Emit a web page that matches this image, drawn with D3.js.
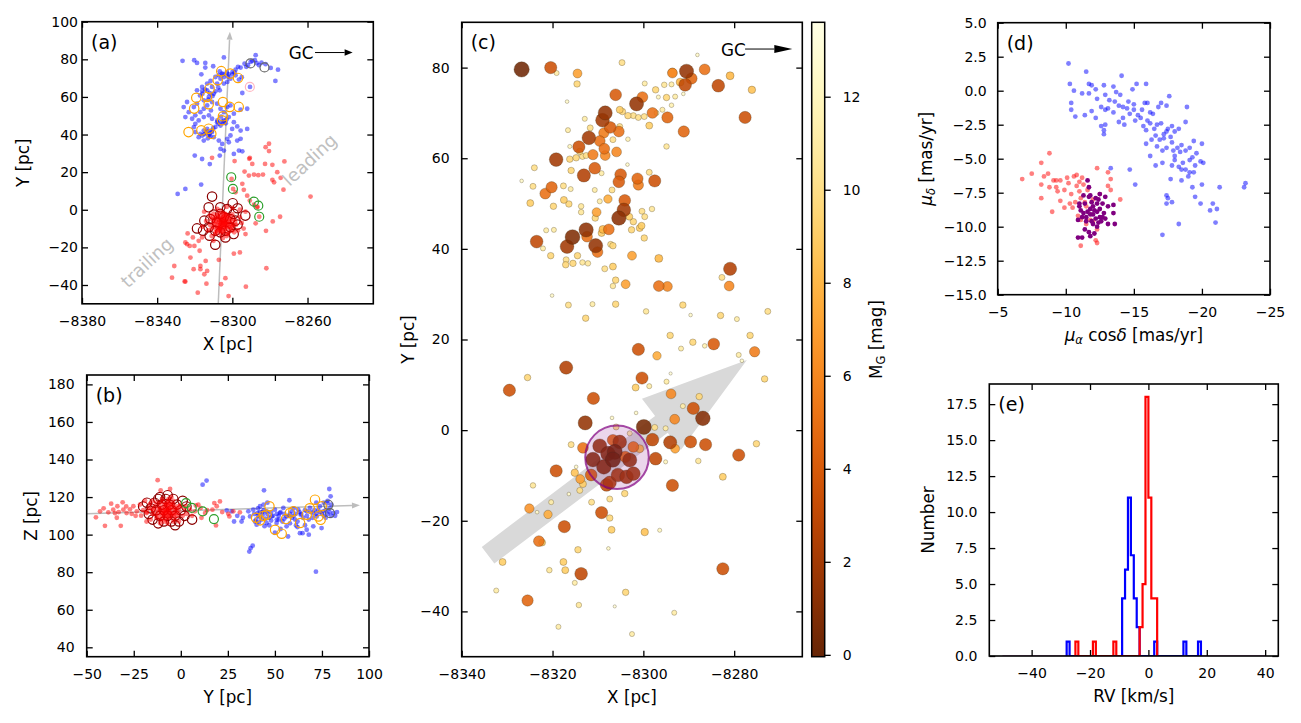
<!DOCTYPE html>
<html>
<head>
<meta charset="utf-8">
<script src="https://cdn.jsdelivr.net/npm/d3@7"></script>
<style>
  body { margin: 0; background: #fff; }
  svg { display: block; }
</style>
</head>
<body>
<svg id="fig" width="1301" height="723"></svg>
<script>
const FONT = "'DejaVu Sans', sans-serif";

// ---------- panel (a): X-Y positions ----------
const aBlue = [
  [-8326.5,79.2],[-8320.3,79.5],[-8318.8,78.1],[-8314.4,78.1],[-8314.4,75.6],[-8316.5,72.0],[-8310.2,76.3],[-8304.5,81.0],
  [-8306.7,73.6],[-8305.4,72.4],[-8309.0,70.6],[-8311.6,68.5],[-8313.4,67.1],[-8316.1,65.3],[-8318.8,63.5],[-8315.9,61.7],
  [-8313.4,63.5],[-8310.8,65.3],[-8308.1,67.1],[-8306.3,69.7],[-8304.5,70.6],[-8301.9,72.0],[-8299.9,73.3],[-8298.3,74.5],
  [-8295.6,75.6],[-8293.5,77.7],[-8291.7,76.9],[-8290.3,78.6],[-8287.6,82.2],[-8289.4,79.2],[-8285.8,76.9],[-8282.3,77.4],
  [-8279.6,75.4],[-8275.7,74.5],[-8277.1,68.5],[-8290.6,65.3],[-8294.7,62.1],[-8296.5,69.2],[-8298.3,71.5],[-8301.0,69.7],
  [-8302.7,68.0],[-8304.5,67.1],[-8306.7,63.5],[-8309.9,61.7],[-8312.5,60.0],[-8315.2,58.2],[-8318.8,56.4],[-8320.5,54.6],
  [-8324.1,57.3],[-8325.9,54.6],[-8325.0,49.3],[-8323.2,51.9],[-8321.4,48.4],[-8319.7,50.2],[-8317.0,51.9],[-8315.2,53.7],
  [-8313.4,55.5],[-8310.8,57.3],[-8308.1,56.4],[-8306.3,53.7],[-8304.5,51.9],[-8302.7,54.6],[-8301.0,55.5],[-8299.2,51.1],
  [-8301.9,49.3],[-8304.5,47.5],[-8306.3,44.8],[-8308.1,46.6],[-8310.8,48.4],[-8312.5,50.2],[-8315.2,49.3],[-8317.9,47.5],
  [-8319.7,45.7],[-8320.5,43.9],[-8319.7,41.3],[-8317.9,38.6],[-8315.2,36.8],[-8312.5,39.5],[-8310.8,41.3],[-8313.4,43.0],
  [-8315.2,42.1],[-8317.0,40.4],[-8309.9,38.6],[-8307.2,36.8],[-8305.4,35.0],[-8302.7,37.7],[-8301.0,39.5],[-8300.1,43.0],
  [-8299.2,46.6],[-8297.4,44.3],[-8295.6,42.1],[-8297.4,36.8],[-8301.9,35.9],[-8304.5,31.5],[-8306.3,32.4],[-8296.5,31.5],
  [-8294.7,31.1],[-8295.6,37.7],[-8295.6,53.2],[-8292.1,53.7],[-8292.1,43.0],[-8320.0,28.8],[-8316.1,27.0],[-8312.0,24.3],
  [-8306.7,28.8],[-8299.2,29.7],[-8314,41],[-8312,40.5],[-8311,42],[-8313,38],[-8316,39.5],[-8309,44],[-8308,47.5],
  [-8305.5,47],[-8306,49.5],[-8303.5,46],[-8310.5,60.5],[-8312,62],[-8314.5,64],[-8309,63],[-8307.5,65],[-8305,72],
  [-8303,73],[-8300,72],[-8297,76],[-8288,79.5],[-8287,78],[-8295,70.5],[-8316.6,13.4],[-8325.0,11.1],[-8329.1,8.4],
  [-8314.8,40.2],[-8313.2,41.6],[-8311.8,39.0],[-8310.2,43.4],[-8307.4,45.8],[-8304.8,46.2],[-8303.1,48.0],[-8317.2,60.8],
  [-8316.0,63.2],[-8312.8,58.6],[-8307.2,71.6],[-8302.4,70.8],[-8298.8,73.0],[-8292.6,76.0],[-8284.5,78.2],[-8311.4,52.8]
];
const aRed = [
  [-8282.3,33.3],[-8280.5,35.1],[-8280.5,31.2],[-8298.8,25.9],[-8289.4,24.4],[-8291.0,27.1],[-8282.6,24.4],[-8278.7,23.9],
  [-8272.3,25.7],[-8293.5,20.3],[-8291.2,18.2],[-8288.5,18.7],[-8286.2,18.4],[-8283.7,18.7],[-8276.1,20.0],[-8278.7,15.9],
  [-8277.8,14.6],[-8274.3,17.0],[-8272.8,10.7],[-8258.4,7.0],[-8294.7,13.8],[-8293.9,10.6],[-8298.3,9.3],[-8300.4,16.4],
  [-8299.6,11.1],[-8292.1,7.5],[-8290.7,4.9],[-8288.5,2.7],[-8286.7,1.7],[-8285.7,-3.7],[-8287.6,-7.2],[-8278.5,-6.2],
  [-8274.6,-3.7],[-8282.1,-11.2],[-8293.0,-12.9],[-8281.9,-31.1],[-8292.8,-40.9],[-8302.0,-45.9],[-8306.0,-39.6],
  [-8303.7,-36.4],[-8299.2,-23.3],[-8296.0,-22.7],[-8307.2,-26.6],[-8313.8,-39.3],[-8318.4,-44.1],[-8325.0,-38.2],
  [-8332.1,-36.1],[-8330.9,-29.9],[-8322.3,-25.4],[-8317.4,-21.8],[-8314.2,-27.2],[-8317.0,-29.9],[-8317.0,-31.6],
  [-8320.6,-31.6],[-8313.4,-32.5],[-8314.9,-34.3],[-8320.2,-19.2],[-8324.1,-18.3],[-8322.7,-19.2],[-8325.0,-17.4],
  [-8317.9,-16.5],[-8316.1,-14.7],[-8323.8,-12.6],[-8321.0,-14.7],[-8325.4,-38.1],[-8310.8,27.6],[-8290.7,27.6],
  [-8286.8,1.3],
  [-8306,-7],[-8304,-6],[-8305,-8],[-8303,-8.5],[-8307,-5.5],[-8308,-8],[-8302,-5],[-8306,-10],[-8304,-10.5],[-8309,-6],
  [-8301,-7.5],[-8305,-4],[-8307,-11],[-8303,-3.5],[-8310,-9],[-8300,-9],[-8308,-3],[-8302,-12],[-8306,-13],[-8311,-5],
  [-8299,-5],[-8304,-2],[-8309,-12],[-8301,-10],[-8312,-8],[-8298,-8],[-8306,-1],[-8310,-2],[-8300,-2.5],[-8313,-11],
  [-8297,-11],[-8305,-15],[-8303,-14],[-8311,-14],[-8296,-4],[-8314,-6],[-8307,-6.5],[-8304,-7.5],[-8305,-9.5],[-8306,-5],
  [-8303,-6.5],[-8308,-9.5],[-8302,-9],[-8304,-4.5],[-8306,-8.5],[-8305,-6],[-8309,-4],[-8301,-4],[-8299,-12],[-8312,-3],
  [-8295,-7],[-8296,0],[-8300,1],[-8315,-1],[-8293,-1],[-8316,-9],[-8294,-10],[-8303,1.5],[-8308,0.5],[-8310,-16.5],
  [-8305.5,-7.5],[-8304.5,-6.5],[-8306.5,-8],[-8303.5,-7],[-8305,-5.5],[-8307.5,-7],[-8302.5,-7.5],[-8304,-9],[-8306,-3.5],
  [-8308.5,-5],[-8301.5,-6],[-8303,-10],[-8307,-9.5],[-8309.5,-7.5],[-8300.5,-6],[-8305.5,-11.5],[-8302,-3],[-8308.5,-10.5],
  [-8304.5,-12],[-8310.5,-4],[-8299.5,-8],[-8306.5,-11],[-8303.5,-2.5],[-8311,-10],[-8300,-11],[-8307.5,-2],[-8309,-13],
  [-8302.5,-13],[-8305,-2],[-8310,-6.5],[-8298.5,-6.5],[-8304,-8],[-8306,-6],[-8305,-7],[-8303.5,-5],[-8307,-4],
  [-8301,-9],[-8308,-11.5],[-8304.5,-3.5],[-8306.5,-9.5]
];
const aOrangeRings = [
  [-8305.9,73.7],[-8301.1,72.4],[-8297.0,70.1],[-8307.8,68.9],[-8312.1,64.4],[-8313.5,60.0],[-8319.2,59.5],[-8312.6,56.1],
  [-8320.3,53.8],[-8305.0,57.3],[-8301.4,54.7],[-8296.6,54.7],[-8305.0,49.7],[-8305.5,47.6],[-8323.3,41.3],[-8316.5,42.2],
  [-8312.6,43.1],[-8311.2,40.4]
];
const aDarkRedRings = [
  [-8310.8,7.0],[-8312.6,1.3],[-8318.8,-9.9],[-8309.1,-18.6],[-8303.7,-14.7],[-8293.1,-3.1],[-8297.2,0.8],[-8299.8,3.5],
  [-8306.4,1.3],[-8309.9,-2.6],[-8314.9,-5.8],[-8315.6,-11.1],[-8312.1,-13.8],[-8306.4,-12.0],[-8301.1,-9.3],[-8298.4,-5.8],
  [-8299.3,-2.2],[-8302.8,0.4],[-8312.6,-9.3],[-8308.2,-6.7],[-8304.6,-4.0],[-8301.1,-4.9],[-8309.1,-11.1],[-8303.7,-11.1],
  [-8306.4,-2.2],[-8311.7,-4.9],[-8299.3,-12.9],[-8297.2,-7.9]
];
const aGreenRings = [[-8300.6,17.3],[-8299.7,11.1],[-8288.5,4.3],[-8286.2,2.2],[-8285.7,-3.7]];
const aGrayRings = [[-8290.4,77.8],[-8282.9,75.7]];
const aPinkRings = [[-8290.7,65.3]];

// ---------- panel (b): Y-Z positions ----------
const bBlue = [
  [13.7,128.8],[11.6,126.6],[24.4,112.9],[27,112.4],[28.3,107],[32.3,107],[35.9,112.4],[36.8,109.7],[38.5,113.3],[39.4,107],
  [40.3,105.3],[40.8,111.5],[42.1,115.1],[43.5,110.6],[44.2,123.6],[45.6,112.4],[45.6,106.2],[48.3,109.7],[50,113.3],
  [50.9,106.2],[52.7,111.5],[54.5,114.2],[56.2,109.7],[56.2,104.4],[57.7,118.3],[58.9,112.4],[60.7,108],[61.2,104.9],
  [62.4,113.3],[63.7,110.6],[64.7,100.8],[63.3,100.8],[66.9,112.4],[66.9,102.6],[68.6,114.2],[70.4,111.5],[70.4,104.4],
  [72.2,109.7],[73.9,115.1],[74.8,103.5],[75.7,112.4],[77.9,116.8],[78.9,124.3],[79.6,120.4],[81,111.5],[71.8,80.3],
  [36.4,91],[37.1,92.8],[38.2,94.1],[41,110],[42,112],[43,108],[44,113],[46,111],[47,109],[48,112],[49,110],[51,108],
  [52,110],[53,112],[55,111],[57,110],[59,109],[61,111],[63,112],[65,109],[67,110],[69,112],[71,113],[72,111],[74,112],
  [76,110],[77,113],[78,111],[79,114],[80,116],[82,110],[83,112],[58,106],[62,107],[66,105],[54,107],[47,105],[39,111],
  [41,114],[44,116],[60,114],[53,103],[57,99],[68,100],[50,101],[30,110],[33,109],[76,117],[78,118],[72,117],[62,104],
  [46,117],[52,108],[40,108],[42,109.5],[43.5,112],[45,108.5],[48,107.5],[51,111],[55,108.5],[58,111],[64,111],[66,113],
  [68,108],[70,109],[73,113],[75,111],[77,109],[79,112],[80,110],[41.5,106.5],[44.5,104.5],[60,110]
];
const bRed = [
  [-45.1,109.2],[-42.9,112.4],[-38.5,111.9],[-40.3,104.7],[-35.9,113.3],[-35.0,111.5],[-30.9,117.2],[-30.5,113.3],
  [-31.9,104.7],[-33.7,115.1],[-28.8,111.5],[-26.1,111.1],[-25.2,115.1],[-23.4,112.4],[-21.7,116.0],[-21.1,110.1],
  [-18.2,111.5],[-18.2,107.0],[-15.5,113.6],[-16.4,116.3],[-12.3,129.0],[-10.7,123.6],[-5.7,124.3],[3.1,115.1],[4.9,113.3],
  [7.5,112.4],[9.3,116.0],[10.5,114.2],[12.9,111.5],[16.8,113.3],[17.8,116.8],[19.1,115.1],[20.8,117.7],[18.7,104.9],
  [25.2,111.1],[25.8,109.7],[27.9,112.4],[31.4,111.9],[-37,116.5],[-34,109],[-27,113.5],[-24,110],[-20,113],[-19,118],
  [-33,112],[6,110],[11,109],[14,113],[22,112],[8,115.5],[-41,114],[-29,115],
  [-8,113],[-6,112],[-10,114],[-4,111],[-7,115],[-9,110],[-5,116],[-12,112],[-3,114],[-8,108],[-11,117],[-2,110],
  [-6,109],[-13,109],[-1,113],[-14,115],[-7,118],[-9,107],[-4,107],[0,116],[-15,111],[-10,119],[-5,120],[-16,108],
  [1,110],[-8,111.5],[-6,114],[-9,112.5],[-7,110.5],[-5,113],[-11,113.5],[-3,112],[-12,110],[-2,115],[-10,108.5],
  [-6,117],[-8,116],[-4,118],[-13,117],[2,114],[-17,114],[3,111],[-11,106],[-7,106],[-1,107],[-15,118],[-18,112],
  [-7.5,112.5],[-6.5,113.5],[-8.5,114],[-5.5,111.5],[-9.5,111.5],[-4.5,114.5],[-10.5,112],[-7,109],[-3.5,110.5],
  [-11.5,115],[-6,115.5],[-8,110],[-9,115.5],[-5,109.5],[-12.5,113.5],[-2.5,113],[-7,113.5],[-8.5,112],[-6,111],
  [-10,110.5],[-4,116],[-13.5,111],[-1.5,111.5],[-9.5,117.5],[-6.5,119],[-3,108.5],[-11,108],[-14.5,113],[-0.5,115],
  [-7.5,116.5]
];
const bOrangeRings = [
  [47.1,115.1],[42.1,107.6],[44,110],[50.1,102.6],[53.6,100.5],[55.9,108.3],[58,111.5],[63.4,106.2],[66.9,110.6],
  [71.3,118.6],[73.1,109.7],[74.3,107.9],[74.9,115.1],[59.8,112.4],[45.6,110.6],[68.5,114],[40,109]
];
const bDarkRedRings = [
  [-20,115],[-17,111],[-15,108],[-14,117],[-13,113],[-12,119],[-11,110],[-10,116],[-9,107],[-9,113],[-8,119],[-7,110],
  [-6,116],[-5,107],[-5,113],[-4,119],[-3,110],[-2,116],[-1,107],[0,113],[1,118],[2,110],[-16,114],[-7,121],[-3,105],
  [-12,106],[-18,117],[3,115],[-11,120],[6,108]
];
const bGreenRings = [[2.8,116.8],[5.8,114.2],[11.6,112.4],[17.6,108.3]];
const bGrayRings = [[78.4,115.9],[79.3,111.5]];

// ---------- panel (c): X, Y, M_G ----------
const cStars = [
  [-8326.8,79.6,0.3],[-8320.4,80.0,3.5],[-8314.5,78.7,7],[-8314.6,76.4,9.5],[-8304.7,81.1,10],[-8288.1,82.8,12.5],
  [-8293.6,78.9,7],[-8290.5,79.2,1.5],[-8290.8,76.2,3],[-8289.4,77.6,4.5],[-8286.5,79.6,5],[-8283.5,76.0,3],
  [-8280.9,78.2,8],[-8276.1,75.1,8.5],[-8277.6,69.0,3.5],[-8291.1,65.9,4.5],[-8301.5,72.0,1.5],[-8300.2,73.5,5],
  [-8298.0,70.0,5],[-8294.7,69.0,4.5],[-8306.1,74.0,4],[-8308.4,70.0,1.5],[-8309.0,68.4,2],[-8307.3,66.8,4],
  [-8312.0,64.5,2],[-8314.2,62.5,3.5],[-8308.7,65.6,5.5],[-8309.6,63.8,5],[-8305.4,65.9,5],[-8308.6,62.1,5],
  [-8308.4,60.6,6],[-8305.9,61.4,6],[-8319.2,59.7,2],[-8311.1,60.8,5.5],[-8310.7,57.8,4],[-8313.1,56.2,2.5],
  [-8305.0,56.4,4],[-8305.4,54.8,4],[-8301.3,55.5,4.5],[-8301.1,54.1,5.5],[-8297.5,55.0,3.5],[-8320.2,53.6,4.5],
  [-8321.6,52.2,5],[-8304.1,50.7,4],[-8307.8,51.0,7.5],[-8304.3,48.6,2],[-8305.4,46.8,1.2],[-8307.6,44.3,5],
  [-8310.3,48.1,7],[-8315.6,42.6,0.8],[-8312.6,44.2,1.3],[-8316.8,40.5,2],[-8310.5,40.7,1.5],[-8310.1,39.3,5],
  [-8323.5,41.6,3],[-8302.5,38.5,7],[-8296.6,37.9,8],[-8280.9,35.6,2.5],[-8281.1,31.8,6],[-8296.6,31.8,5],
  [-8294.7,31.7,6],[-8303.9,32.2,7],[-8312.4,42.7,5],
  [-8324.0,57.9,10],[-8326.8,55.0,12.5],[-8324.3,53.8,10],[-8324.9,50.1,9],[-8319.8,49.4,9.5],[-8317.5,50.8,9],
  [-8316.4,49.9,9.5],[-8313.7,49.4,10.5],[-8313.7,48.1,10.5],[-8317.6,53.9,10],[-8316.0,53.2,11],[-8309.6,50.5,11],
  [-8310.7,53.0,11],[-8306.9,53.0,10],[-8321.4,44.1,11],[-8319.7,44.2,11],[-8322.1,40.1,11],[-8320.4,38.5,9.5],
  [-8317.0,37.6,10],[-8317.1,36.5,9.5],[-8315.5,36.8,9.5],[-8314.5,38.5,9.5],[-8313.4,37.0,10.5],[-8312.2,36.8,10.5],
  [-8308.5,35.6,10],[-8306.7,36.1,9],[-8306.1,33.1,9.5],[-8306.7,31.8,10.5],[-8320.1,29.7,12.5],[-8316.5,27.6,10],
  [-8311.2,27.8,11],[-8312.7,24.7,9.5],[-8306.1,27.8,9.5],[-8299.4,26.2,10.5],[-8291.3,27.6,9.5],[-8289.6,25.4,12.5],
  [-8283.0,25.3,9.5],[-8279.4,24.5,11],[-8272.6,26.2,10],
  [-8316.8,72.5,12.5],[-8312.9,68.7,11],[-8316.6,66.2,11],[-8311.7,66.7,10],[-8316.2,62.6,12],[-8314.0,61.5,9.5],
  [-8316.2,59.8,9.5],[-8314.8,60.1,9.5],[-8313.4,60.4,10],[-8312.6,60.6,10],[-8315.9,57.3,9.5],[-8309.2,56.7,11],
  [-8305.2,70.7,9],[-8304.6,70.3,9.5],[-8303.4,69.4,9.5],[-8302.2,69.4,10],[-8301.1,69.0,10],[-8299.8,69.2,10],
  [-8298.7,67.2,9],[-8297.1,70.0,11],[-8295.8,70.7,11],[-8299.7,76.5,11],[-8297.3,75.1,9.5],[-8296.7,73.5,12],
  [-8294.9,73.4,9.5],[-8293.0,73.6,11],[-8293.8,71.7,11.5],[-8291.2,74.2,12.5],[-8295.4,76.2,10.5],[-8293.8,76.3,11],
  [-8291.9,76.8,8],[-8303.4,64.2,11.5],[-8303.5,58.6,12.5],[-8298.7,56.9,10],[-8294.9,62.6,10.5],[-8305.2,67.0,10],
  [-8306.7,64.1,10],[-8319.1,78.8,11],[-8293.6,78.8,6],
  [-8302.6,44.2,9.5],[-8300.8,44.6,9],[-8300.4,45.1,9],[-8299.8,42.4,9.5],[-8298.1,48.8,10.5],[-8300.3,48.3,10],
  [-8299.7,47.1,10],[-8303.1,47.1,9],[-8302.2,46.0,9.5],[-8308.9,44.3,8],[-8309.2,43.5,9],[-8307.2,41.0,10],
  [-8306.7,40.7,9.5],[-8310.6,46.8,9.5],[-8282.7,33.7,10],
  [-8329.5,8.8,3.5],[-8325.5,11.6,9.5],[-8317.0,13.8,2.5],[-8311.0,7.0,3.5],[-8312.8,1.6,1.5],[-8299.9,0.7,0.5],
  [-8300.3,11.5,3.5],[-8301.1,17.8,3.5],[-8297.0,16.4,7.5],[-8301.7,9.4,9],[-8298.7,9.7,11],[-8294.9,10.7,11],
  [-8294.0,12.5,13],[-8293.9,8.0,6],[-8294.1,20.9,9.5],[-8291.7,18.0,11],[-8289.1,19.4,9.5],[-8286.5,18.6,11.5],
  [-8284.5,19.0,4],[-8276.5,20.9,9.5],[-8275.5,17.3,5.5],[-8279.0,16.6,11],[-8278.3,15.3,12.5],[-8273.3,11.3,9.5],
  [-8287.7,7.4,9.5],[-8291.3,5.3,11],[-8289.0,4.8,3.5],[-8286.9,2.6,1],[-8293.1,2.4,6],[-8297.5,0.6,10],
  [-8295.1,0.4,11],[-8298.0,-2.1,3],[-8294.1,-2.7,2.5],[-8289.6,-2.6,3.5],[-8286.3,-3.2,3.5],[-8293.0,-4.1,7],
  [-8297.3,-6.3,3],[-8295.1,-7.0,12],[-8287.9,-6.8,10.5],[-8279.0,-5.5,3.5],[-8275.1,-3.0,9.5],[-8282.5,-10.3,9],
  [-8293.6,-12.2,3.5],[-8306.9,2.7,12.5],[-8301.6,3.8,12.5],[-8315.9,-3.2,10],[-8313.3,-3.9,5],[-8319.2,-9.0,3.5],
  [-8314.8,-8.1,12.5],[-8315.1,-9.4,8.5],[-8313.9,-10.8,7],[-8313.3,-11.9,9],[-8314.0,-13.3,10],[-8316.4,-14.1,12.5],
  [-8311.4,-15.9,10],[-8307.4,-15.2,10],[-8304.1,-14.0,9.5],[-8309.2,-18.2,3.5],[-8307.4,-19.4,9.5],[-8307.0,-22.0,9],
  [-8307.7,-26.1,12.5],[-8320.3,-15.9,11],[-8324.3,-12.2,10.5],[-8325.1,-17.3,6.5],[-8323.4,-18.1,12.5],
  [-8321.0,-18.6,7.5],[-8317.4,-21.3,3.5],[-8323.0,-24.5,5],[-8322.3,-24.8,9],[-8314.4,-26.4,9.5],[-8317.6,-29.1,9],
  [-8317.2,-30.9,9],[-8320.7,-30.9,10.5],[-8313.7,-31.7,3],[-8315.1,-33.7,11],[-8314.2,-38.6,10.5],[-8325.5,-37.6,4.5],
  [-8332.4,-35.4,11],[-8331.0,-29.1,9],[-8303.9,-35.8,9.5],[-8306.3,-38.9,13],[-8293.2,-40.3,11],[-8299.7,-22.5,8.5],
  [-8296.4,-22.1,12],[-8282.5,-30.6,3.5],[-8318.7,-43.4,11],[-8302.5,-45.0,11],
  [-8309.6,-3.5,1.5],[-8306.3,-4.8,0.5],[-8306.7,-6.5,0.3],[-8311.1,-6.5,1],[-8308.7,-8.1,1],[-8305.2,-2.6,2],
  [-8303.0,-6.6,1.5],[-8305.6,-9.9,2],[-8307.4,-11.6,2.5],[-8303.7,-10.3,2],[-8300.8,-4.1,8],[-8302.2,-3.7,5],
  [-8302.2,-9.6,2],[-8307.8,-5.2,1],[-8311.5,-9.9,4],[-8308.1,-12.1,3],[-8306.0,0.7,10],[-8303.0,-0.7,11],
  [-8304.0,-5.9,4.5],[-8306.7,-2.2,4.5]
];
const cCore = { x: -8305.8, y: -6.0, r: 7 };
const cArrow = { tail: [-8334.2, -27.6], tip: [-8277.2, 15.5], width: 4.6, headWidth: 14.2, headLength: 23.6 };

// ---------- panel (d): proper motions ----------
const dBlue = [
  [-10.2,2.0],[-11.5,1.4],[-10.3,0.5],[-11.7,0.5],[-11.9,0.4],[-12.8,0.4],[-14.1,1.1],[-10.6,0.0],[-11.2,-0.2],[-11.7,-0.2],
  [-12.2,0.1],[-12.9,-0.3],[-13.5,0.3],[-13.7,-0.1],[-14.9,0.1],[-15.2,0.5],[-15.9,0.5],[-10.4,-0.9],[-10.4,-1.4],
  [-10.7,-1.9],[-11.4,-1.8],[-11.9,-1.5],[-12.2,-2.0],[-12.3,-0.6],[-12.6,-1.2],[-12.9,-1.4],[-13.1,-1.3],[-13.2,-0.7],
  [-13.6,-0.8],[-13.9,-1.1],[-14.2,-1.2],[-14.5,-1.3],[-14.7,-1.7],[-15.0,-1.4],[-15.3,-1.8],[-15.6,-1.4],[-15.8,-0.9],
  [-16.0,-0.9],[-16.2,-1.6],[-16.4,-1.7],[-14.2,-2.0],[-15.1,-2.2],[-15.7,-2.6],[-15.9,-2.9],[-16.2,-2.4],[-16.7,-2.5],
  [-17.0,-2.4],[-17.4,-3.0],[-17.5,-2.8],[-17.8,-2.6],[-18.0,-3.0],[-18.3,-2.8],[-17.7,-3.4],[-17.2,-3.5],[-16.9,-3.6],
  [-16.6,-3.3],[-15.9,-3.9],[-16.7,-4.1],[-17.1,-4.4],[-17.4,-4.2],[-17.9,-4.4],[-18.2,-4.2],[-18.4,-4.5],[-18.8,-4.4],
  [-19.1,-4.2],[-19.4,-3.7],[-20.0,-3.9],[-18.8,-2.3],[-18.9,-1.2],[-17.6,-0.4],[-17.4,-1.1],[-17.0,-0.9],[-16.2,-4.8],
  [-16.6,-5.5],[-17.1,-5.3],[-17.8,-5.5],[-18.0,-5.1],[-18.3,-5.6],[-18.5,-5.8],[-18.6,-5.3],[-19.1,-5.1],[-19.3,-4.9],
  [-19.5,-5.5],[-19.9,-5.2],[-20.1,-5.3],[-19.1,-6.0],[-19.4,-6.0],[-19.0,-6.3],[-18.5,-6.6],[-17.7,-6.5],[-19.3,-7.1],
  [-20.0,-6.9],[-21.3,-7.1],[-23.1,-7.1],[-23.2,-6.8],[-19.9,-8.3],[-20.8,-8.3],[-21.1,-8.7],[-20.6,-8.8],[-21.0,-9.7],
  [-19.5,-7.8],[-17.4,-7.7],[-17.5,-7.9],[-17.8,-8.2],[-17.4,-8.3],[-18.3,-9.8],[-17.1,-10.6],[-14.7,-5.8],[-15.1,-6.9],
  [-13.3,-5.7],[-13.9,-2.3],[-14.3,-2.5],[-12.9,-2.5],[-12.8,-2.9],[-12.8,-3.2],[-12.6,-2.6],[-15.5,-2.0],[-16.0,-2.2],
  [-16.5,-2.8],[-17.2,-3.2],[-17.8,-3.8],[-18.5,-4.0],[-15.0,-1.0],[-14.6,-0.8],[-16.8,-1.2],[-18.0,-4.8],[-18.8,-5.8],
  [-19.6,-4.6],[-13.5,-1.6],[-14.0,-0.3],[-16.3,-3.6]
];
const dRed = [
  [-8.8,-4.6],[-8.2,-5.3],[-6.8,-6.5],[-7.5,-6.1],[-8.4,-6.3],[-8.7,-6.1],[-9.1,-6.6],[-9.3,-6.6],[-9.6,-6.6],[-8.2,-6.9],
  [-8.8,-7.1],[-9.3,-7.1],[-9.4,-7.4],[-10.1,-6.4],[-10.2,-6.8],[-10.6,-6.3],[-10.8,-6.2],[-11.0,-6.7],[-11.2,-6.4],
  [-11.3,-6.9],[-12.3,-5.7],[-13.1,-6.0],[-13.3,-6.5],[-13.1,-7.0],[-12.5,-7.6],[-9.9,-7.3],[-9.6,-8.1],[-10.3,-8.3],
  [-10.7,-8.2],[-11.0,-7.4],[-11.1,-7.9],[-11.4,-8.2],[-8.2,-7.9],[-9.0,-8.9],[-9.9,-8.6],[-10.5,-8.6],[-10.9,-9.2],
  [-11.1,-9.5],[-11.5,-9.8],[-11.8,-9.5],[-12.0,-9.6],[-12.3,-10.2],[-11.1,-11.4],[-12.2,-11.0],[-12.3,-11.2],[-14.0,-8.0],
  [-13.3,-7.3],[-11.5,-8.5],[-10.8,-7.0],[-11.6,-7.3],[-10.4,-7.6],[-12.0,-8.0]
];
const dPurple = [
  [-11.6,-6.6],[-11.7,-7.1],[-11.8,-7.7],[-12.5,-7.6],[-12.9,-7.8],[-13.1,-8.5],[-13.5,-8.4],[-13.5,-9.0],[-13.6,-9.8],
  [-13.1,-9.8],[-12.7,-9.3],[-12.3,-8.3],[-12.0,-8.5],[-11.8,-8.7],[-11.4,-8.3],[-11.0,-8.3],[-11.3,-9.0],[-11.5,-9.3],
  [-11.8,-9.1],[-12.0,-9.1],[-12.3,-8.9],[-12.5,-8.7],[-12.8,-9.0],[-12.2,-9.4],[-11.9,-9.6],[-11.5,-9.6],[-11.2,-9.3],
  [-10.9,-9.5],[-12.0,-9.8],[-12.4,-9.7],[-12.6,-9.6],[-11.7,-7.8],[-11.3,-7.7],[-12.2,-7.9],[-11.9,-8.2],[-12.4,-8.0],
  [-11.4,-10.2],[-11.7,-10.4],[-12.1,-10.5],[-11.8,-10.7],[-11.2,-10.8],[-11.0,-8.5],[-12.7,-8.3],[-12.1,-8.8],
  [-11.6,-8.9],[-12.5,-9.3],[-11.1,-8.8],[-12.9,-9.4],[-10.9,-10.8],[-12.3,-10.0]
];

// ---------- panel (e): RV histograms, [bin left edge, count], 1 km/s bins on [-50, 40] ----------
const eBlueBins = [[-28,1],[-9,4],[-8,6],[-7,11],[-6,7],[-5,4],[-4,2],[2,1],[12,1],[17,1]];
const eRedBins = [[-25,1],[-19,1],[-12,1],[-3,2],[-2,5],[-1,18],[0,11],[1,4],[2,4]];
const eRange = [-50, 40];

// ---------- ticks ----------
const aXTicks = [-8380, -8340, -8300, -8260];
const aYTicks = [-40, -20, 0, 20, 40, 60, 80, 100];
const bXTicks = [-50, -25, 0, 25, 50, 75, 100];
const bYTicks = [40, 60, 80, 100, 120, 140, 160, 180];
const cXTicks = [-8340, -8320, -8300, -8280];
const cYTicks = [-40, -20, 0, 20, 40, 60, 80];
const cbTicks = [0, 2, 4, 6, 8, 10, 12];
const dXTicks = [-5, -10, -15, -20, -25];
const dYTicks = [-15, -12.5, -10, -7.5, -5, -2.5, 0, 2.5, 5];
const eXTicks = [-40, -20, 0, 20, 40];
const eYTicks = [0, 2.5, 5, 7.5, 10, 12.5, 15, 17.5];
const mgDomain = [-0.04, 13.6];

const svg = d3.select("#fig");
const defs = svg.append("defs");

function makePanel(o) {
  const x = d3.scaleLinear().domain(o.xDomain).range([o.left, o.right]);
  const y = d3.scaleLinear().domain(o.yDomain).range([o.bottom, o.top]);
  const g = svg.append("g");
  defs.append("clipPath").attr("id", "clip-" + o.id)
    .append("rect")
    .attr("x", o.left).attr("y", o.top)
    .attr("width", o.right - o.left).attr("height", o.bottom - o.top);
  const plot = g.append("g").attr("clip-path", `url(#clip-${o.id})`);
  return { x, y, g, plot, o };
}

function styleAxis(sel) {
  sel.select("path.domain").remove();
  sel.attr("font-family", FONT).attr("font-size", 14);
  sel.selectAll("line").attr("stroke", "#000").attr("stroke-width", 1.3);
  sel.selectAll("text").attr("fill", "#000");
}

function finishAxes(p) {
  const { x, y, g, o } = p;
  const fx = o.xFmt || d3.format("d");
  const fy = o.yFmt || d3.format("d");
  g.append("g").attr("transform", `translate(0,${o.bottom})`)
    .call(d3.axisBottom(x).tickValues(o.xTicks).tickFormat(fx).tickSizeInner(-6).tickSizeOuter(0).tickPadding(12))
    .call(styleAxis);
  g.append("g").attr("transform", `translate(0,${o.top})`)
    .call(d3.axisTop(x).tickValues(o.xTicks).tickFormat("").tickSizeInner(-6).tickSizeOuter(0))
    .call(styleAxis);
  g.append("g").attr("transform", `translate(${o.left},0)`)
    .call(d3.axisLeft(y).tickValues(o.yTicks).tickFormat(fy).tickSizeInner(-6).tickSizeOuter(0).tickPadding(o.yPad))
    .call(styleAxis);
  g.append("g").attr("transform", `translate(${o.right},0)`)
    .call(d3.axisRight(y).tickValues(o.yTicks).tickFormat("").tickSizeInner(-6).tickSizeOuter(0))
    .call(styleAxis);
  g.append("rect")
    .attr("x", o.left).attr("y", o.top)
    .attr("width", o.right - o.left).attr("height", o.bottom - o.top)
    .attr("fill", "none").attr("stroke", "#000").attr("stroke-width", 1.6);

  // panel tag
  g.append("text").attr("x", o.left + 9).attr("y", o.top + 27)
    .attr("font-family", FONT).attr("font-size", 19).text(o.tag);

  // x label
  const xl = g.append("text")
    .attr("x", (o.left + o.right) / 2).attr("y", o.bottom + 46)
    .attr("text-anchor", "middle").attr("font-family", FONT).attr("font-size", 16.8);
  if (typeof o.xLabel === "function") o.xLabel(xl); else xl.text(o.xLabel);

  // y label
  const yl = g.append("text")
    .attr("transform", `translate(${o.left - o.yLabelOff},${(o.top + o.bottom) / 2}) rotate(-90)`)
    .attr("text-anchor", "middle").attr("dy", "0.35em")
    .attr("font-family", FONT).attr("font-size", 16.8);
  if (typeof o.yLabel === "function") o.yLabel(yl); else yl.text(o.yLabel);
}

function drawDots(p, data, color, opacity, r) {
  p.plot.append("g").selectAll("circle").data(data).enter().append("circle")
    .attr("cx", d => p.x(d[0])).attr("cy", d => p.y(d[1])).attr("r", r)
    .attr("fill", color).attr("fill-opacity", opacity);
}

function drawRings(p, data, color, r) {
  p.plot.append("g").selectAll("circle").data(data).enter().append("circle")
    .attr("cx", d => p.x(d[0])).attr("cy", d => p.y(d[1])).attr("r", r)
    .attr("fill", "none").attr("stroke", color).attr("stroke-width", 1.2);
}

// line with a small filled arrowhead at the end (pixel geometry from scaled ends)
function arrowLine(g, x1, y1, x2, y2, color, width, headLen, headHalf) {
  const dx = x2 - x1, dy = y2 - y1, L = Math.hypot(dx, dy);
  const ux = dx / L, uy = dy / L;
  const bx = x2 - ux * headLen, by = y2 - uy * headLen;
  g.append("line").attr("x1", x1).attr("y1", y1).attr("x2", bx).attr("y2", by)
    .attr("stroke", color).attr("stroke-width", width);
  g.append("path")
    .attr("d", `M${x2},${y2}L${bx - uy * headHalf},${by + ux * headHalf}L${bx + uy * headHalf},${by - ux * headHalf}Z`)
    .attr("fill", color);
}

// =============== (a) ===============
const pa = makePanel({
  id: "a", left: 82, right: 373.3, top: 21.7, bottom: 303.8,
  xDomain: [-8380, -8225], yDomain: [-50, 100], xTicks: aXTicks, yTicks: aYTicks,
  yPad: 4, tag: "(a)", xLabel: "X [pc]", yLabel: "Y [pc]", yLabelOff: 59
});
arrowLine(pa.plot, pa.x(-8307.5), pa.y(-50), pa.x(-8301.3), pa.y(94.7), "#bdbdbd", 1.5, 8, 3);
drawRings(pa, aDarkRedRings, "#8b0000", 4.7);
drawDots(pa, aBlue, "#0000ff", 0.5, 2.4);
drawDots(pa, aRed, "#ff0000", 0.5, 2.4);
drawRings(pa, aOrangeRings, "#ffa500", 4.7);
drawRings(pa, aGreenRings, "#2ca02c", 4.5);
drawRings(pa, aGrayRings, "#666666", 4.5);
drawRings(pa, aPinkRings, "#ffb6c1", 4.5);
pa.plot.append("text").attr("transform", `translate(${pa.x(-8345.5)},${pa.y(-28)}) rotate(-43)`)
  .attr("text-anchor", "middle").attr("dy", "0.35em").attr("font-family", FONT).attr("font-size", 18)
  .attr("fill", "#c0c0c0").text("trailing");
pa.plot.append("text").attr("transform", `translate(${pa.x(-8258.9)},${pa.y(26.6)}) rotate(-43)`)
  .attr("text-anchor", "middle").attr("dy", "0.35em").attr("font-family", FONT).attr("font-size", 18)
  .attr("fill", "#c0c0c0").text("leading");
pa.g.append("text").attr("x", pa.x(-8270)).attr("y", pa.y(80.2))
  .attr("font-family", FONT).attr("font-size", 16.8).text("GC");
arrowLine(pa.g, pa.x(-8256), pa.y(83.6), pa.x(-8236), pa.y(83.6), "#000", 1, 8, 3.2);
finishAxes(pa);

// =============== (b) ===============
const pb = makePanel({
  id: "b", left: 86.7, right: 369, top: 375, bottom: 656.7,
  xDomain: [-50, 100], yDomain: [35, 185], xTicks: bXTicks, yTicks: bYTicks,
  yPad: 12, tag: "(b)", xLabel: "Y [pc]", yLabel: "Z [pc]", yLabelOff: 56
});
arrowLine(pb.plot, pb.x(-50), pb.y(111.1), pb.x(95.2), pb.y(115.6), "#bdbdbd", 1.5, 8, 3);
drawRings(pb, bDarkRedRings, "#8b0000", 4.7);
drawDots(pb, bBlue, "#0000ff", 0.5, 2.4);
drawDots(pb, bRed, "#ff0000", 0.5, 2.4);
drawRings(pb, bOrangeRings, "#ffa500", 4.7);
drawRings(pb, bGreenRings, "#2ca02c", 4.5);
drawRings(pb, bGrayRings, "#666666", 4.5);
finishAxes(pb);

// =============== (c) ===============
const pc = makePanel({
  id: "c", left: 461.7, right: 802.3, top: 22.3, bottom: 656.7,
  xDomain: [-8340, -8265], yDomain: [-50, 90], xTicks: cXTicks, yTicks: cYTicks,
  yPad: 12, tag: "(c)", xLabel: "X [pc]", yLabel: "Y [pc]", yLabelOff: 54
});
const mgColor = d3.scaleSequential(t => d3.interpolateYlOrBr(1 - t)).domain(mgDomain);
const mgSize = d3.scaleLinear().domain([0, 13]).range([7.8, 1.6]).clamp(true);

// fat grey arrow along the stream
{
  const a = cArrow;
  const dx = a.tip[0] - a.tail[0], dy = a.tip[1] - a.tail[1], L = Math.hypot(dx, dy);
  const ux = dx / L, uy = dy / L, px = -uy, py = ux;
  const base = [a.tip[0] - ux * a.headLength, a.tip[1] - uy * a.headLength];
  const w = a.width / 2, hw = a.headWidth / 2;
  const pts = [
    [a.tail[0] + px * w, a.tail[1] + py * w],
    [base[0] + px * w, base[1] + py * w],
    [base[0] + px * hw, base[1] + py * hw],
    a.tip,
    [base[0] - px * hw, base[1] - py * hw],
    [base[0] - px * w, base[1] - py * w],
    [a.tail[0] - px * w, a.tail[1] - py * w]
  ];
  pc.plot.append("path")
    .attr("d", "M" + pts.map(d => `${pc.x(d[0])},${pc.y(d[1])}`).join("L") + "Z")
    .attr("fill", "#d9d9d9");
}
const starsSorted = cStars.slice().sort((a, b) => b[2] - a[2]);
pc.plot.append("g").selectAll("circle").data(starsSorted).enter().append("circle")
  .attr("cx", d => pc.x(d[0])).attr("cy", d => pc.y(d[1]))
  .attr("r", d => mgSize(d[2]))
  .attr("fill", d => mgColor(d[2])).attr("fill-opacity", 0.88)
  .attr("stroke", "#3a2a10").attr("stroke-opacity", 0.55).attr("stroke-width", 0.5);
pc.plot.append("circle")
  .attr("cx", pc.x(cCore.x)).attr("cy", pc.y(cCore.y))
  .attr("r", pc.x(cCore.x + cCore.r) - pc.x(cCore.x))
  .attr("fill", "#800080").attr("fill-opacity", 0.16)
  .attr("stroke", "#800080").attr("stroke-opacity", 0.7).attr("stroke-width", 2);
pc.g.append("text").attr("x", pc.x(-8282.9)).attr("y", pc.y(82.6))
  .attr("font-family", FONT).attr("font-size", 16.8).text("GC");
arrowLine(pc.g, pc.x(-8277.6), pc.y(84.1), pc.x(-8267.2), pc.y(84.1), "#000", 1, 18, 4);
finishAxes(pc);

// colorbar
{
  const cb = { left: 811.7, right: 824.7, top: 22.3, bottom: 656.7 };
  const grad = defs.append("linearGradient").attr("id", "mgGrad")
    .attr("x1", "0%").attr("x2", "0%").attr("y1", "0%").attr("y2", "100%");
  d3.range(0, 1.0001, 0.05).forEach(s => {
    grad.append("stop").attr("offset", (s * 100) + "%").attr("stop-color", d3.interpolateYlOrBr(s));
  });
  svg.append("rect").attr("x", cb.left).attr("y", cb.top)
    .attr("width", cb.right - cb.left).attr("height", cb.bottom - cb.top)
    .attr("fill", "url(#mgGrad)").attr("stroke", "#000").attr("stroke-width", 1.5);
  const cbScale = d3.scaleLinear().domain(mgDomain).range([cb.bottom, cb.top]);
  svg.append("g").attr("transform", `translate(${cb.right},0)`)
    .call(d3.axisRight(cbScale).tickValues(cbTicks).tickFormat(d3.format("d")).tickSizeInner(6).tickSizeOuter(0).tickPadding(12))
    .call(styleAxis);
  const lab = svg.append("text")
    .attr("transform", `translate(876,${(cb.top + cb.bottom) / 2}) rotate(-90)`)
    .attr("text-anchor", "middle").attr("dy", "0.35em")
    .attr("font-family", FONT).attr("font-size", 16.8);
  lab.append("tspan").text("M");
  lab.append("tspan").attr("font-size", 11.5).attr("dy", 3).text("G");
  lab.append("tspan").attr("dy", -3).text(" [mag]");
}

// =============== (d) ===============
const pd = makePanel({
  id: "d", left: 997.7, right: 1270, top: 22.7, bottom: 294.7,
  xDomain: [-5, -25], yDomain: [-15, 5], xTicks: dXTicks, yTicks: dYTicks,
  yFmt: d3.format(".1f"), yPad: 11, tag: "(d)", yLabelOff: 72,
  xLabel: t => {
    t.append("tspan").attr("font-style", "italic").text("μ");
    t.append("tspan").attr("font-style", "italic").attr("font-size", 11.5).attr("dy", 3).text("α");
    t.append("tspan").attr("dy", -3).text(" cos");
    t.append("tspan").attr("font-style", "italic").text("δ");
    t.append("tspan").text(" [mas/yr]");
  },
  yLabel: t => {
    t.append("tspan").attr("font-style", "italic").text("μ");
    t.append("tspan").attr("font-style", "italic").attr("font-size", 11.5).attr("dy", 3).text("δ");
    t.append("tspan").attr("dy", -3).text(" [mas/yr]");
  }
});
drawDots(pd, dBlue, "#0000ff", 0.5, 2.4);
drawDots(pd, dRed, "#ff0000", 0.5, 2.4);
drawDots(pd, dPurple, "#800080", 1, 2.4);
finishAxes(pd);

// =============== (e) ===============
const pe = makePanel({
  id: "e", left: 989.3, right: 1278.3, top: 384, bottom: 656,
  xDomain: [-54.5, 44.5], yDomain: [0, 18.9], xTicks: eXTicks, yTicks: eYTicks,
  yFmt: d3.format(".1f"), yPad: 12, tag: "(e)", xLabel: "RV [km/s]", yLabel: "Number", yLabelOff: 61
});
function stepPoints(bins) {
  const lo = d3.min(bins, d => d[0]), hi = d3.max(bins, d => d[0]) + 1;
  const counts = new Map(bins.map(d => [d[0], d[1]]));
  const pts = [[lo, 0]];
  for (let b = lo; b < hi; b++) {
    const c = counts.get(b) || 0;
    pts.push([b, c], [b + 1, c]);
  }
  pts.push([hi, 0]);
  return pts;
}
const stepLine = d3.line().x(d => pe.x(d[0])).y(d => pe.y(d[1]));
pe.plot.append("path").attr("d", stepLine([[eRange[0], 0], [eRange[1], 0]]))
  .attr("fill", "none").attr("stroke", "#800080").attr("stroke-opacity", 0.45).attr("stroke-width", 2.2);
pe.plot.append("path").attr("d", stepLine(stepPoints(eBlueBins)))
  .attr("fill", "none").attr("stroke", "#0000ff").attr("stroke-width", 2.2).attr("stroke-linejoin", "miter");
pe.plot.append("path").attr("d", stepLine(stepPoints(eRedBins)))
  .attr("fill", "none").attr("stroke", "#ff0000").attr("stroke-width", 2.2).attr("stroke-linejoin", "miter");
finishAxes(pe);
</script>
</body>
</html>
